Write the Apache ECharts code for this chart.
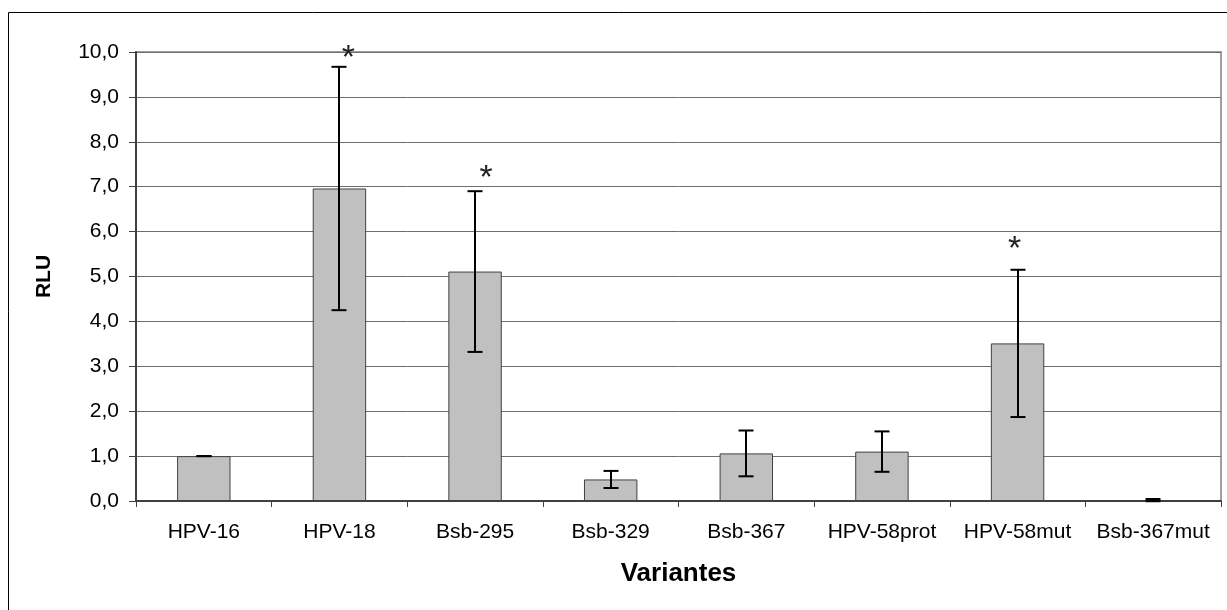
<!DOCTYPE html>
<html>
<head>
<meta charset="utf-8">
<script src="https://cdn.jsdelivr.net/npm/echarts@6/dist/echarts.min.js"></script>
<style>
html,body{margin:0;padding:0;background:#fff;}
#c{width:1227px;height:610px;}
</style>
</head>
<body>
<div id="c"></div>
<script>
// ---- data ----
const categories = ['HPV-16','HPV-18','Bsb-295','Bsb-329','Bsb-367','HPV-58prot','HPV-58mut','Bsb-367mut'];
const rluValues  = [1.00, 6.96, 5.11, 0.48, 1.06, 1.10, 3.51, 0.02];
const rluErrors  = [0.00, 2.71, 1.79, 0.19, 0.51, 0.45, 1.64, 0.025];
const starCategories = [1, 2, 6];
const starValues = [10.03, 7.36, 5.77];
const yTicks = [0,1,2,3,4,5,6,7,8,9,10];

// ---- styles ----
const FONT = 'Liberation Sans, Arial, sans-serif';
const starDx = [9, 11, -3];

const chart = echarts.init(document.getElementById('c'), null, {renderer:'canvas'});

const errData = categories.map((c,i)=>[i, rluValues[i]-rluErrors[i], rluValues[i]+rluErrors[i]]);
const starData = starCategories.map((c,i)=>[c, starValues[i], starDx[i]]);

chart.setOption({
  animation:false,
  backgroundColor:'#fff',
  textStyle:{fontFamily:FONT},
  graphic:[{
    type:'rect', shape:{x:8.5, y:12.5, width:1400, height:800},
    style:{fill:'none', stroke:'#000', lineWidth:1}, z:-10, silent:true
  }],
  grid:{left:136, right:6, top:52, bottom:109, show:true, borderColor:'#a0a0a0', borderWidth:2, backgroundColor:'transparent'},
  xAxis:{
    type:'category', data:categories,
    axisLine:{show:true, lineStyle:{color:'#404040', width:2}},
    axisTick:{show:true, length:6, lineStyle:{color:'#404040', width:1}},
    axisLabel:{color:'#000', fontSize:21, fontFamily:FONT, margin:21, interval:0},
    name:'Variantes', nameLocation:'middle', nameGap:60,
    nameTextStyle:{color:'#000', fontSize:26, fontWeight:'bold', fontFamily:FONT},
    splitLine:{show:false}
  },
  yAxis:{
    type:'value', min:yTicks[0], max:yTicks[yTicks.length-1], interval:1,
    axisLine:{show:true, lineStyle:{color:'#404040', width:2}},
    axisTick:{show:true, length:7, lineStyle:{color:'#404040', width:1}},
    axisLabel:{color:'#000', fontSize:21, fontFamily:FONT, margin:17,
      formatter:v=>v.toFixed(1).replace('.',',')},
    splitLine:{show:true, lineStyle:{color:'#6e6e6e', width:1}},
    name:'RLU', nameLocation:'middle', nameGap:81, nameRotate:90,
    nameTextStyle:{color:'#000', fontSize:21, fontWeight:'bold', fontFamily:FONT}
  },
  series:[
    {
      type:'bar', data:rluValues, barCategoryGap:'60.6%',
      itemStyle:{color:'#c0c0c0', borderColor:'#404040', borderWidth:1},
      z:2
    },
    {
      type:'custom', data:errData, z:5,
      renderItem:(params, api)=>{
        const x = api.value(0);
        const lo = api.coord([x, api.value(1)]);
        const hi = api.coord([x, api.value(2)]);
        const cx = Math.round(lo[0]);
        const half = 7.5;
        const st = {stroke:'#000', lineWidth:2};
        return {type:'group', children:[
          {type:'line', shape:{x1:cx, y1:lo[1], x2:cx, y2:hi[1]}, style:st},
          {type:'line', shape:{x1:cx-half, y1:hi[1], x2:cx+half, y2:hi[1]}, style:st},
          {type:'line', shape:{x1:cx-half, y1:lo[1], x2:cx+half, y2:lo[1]}, style:st}
        ]};
      }
    },
    {
      type:'custom', data:starData, z:6,
      renderItem:(params, api)=>{
        const p = api.coord([api.value(0), api.value(1)]);
        return {type:'text', x:p[0]+api.value(2), y:p[1]+8,
          style:{text:'*', fontSize:34, fontFamily:FONT, fill:'#222', align:'center', verticalAlign:'middle'}};
      }
    }
  ]
});
</script>
</body>
</html>
